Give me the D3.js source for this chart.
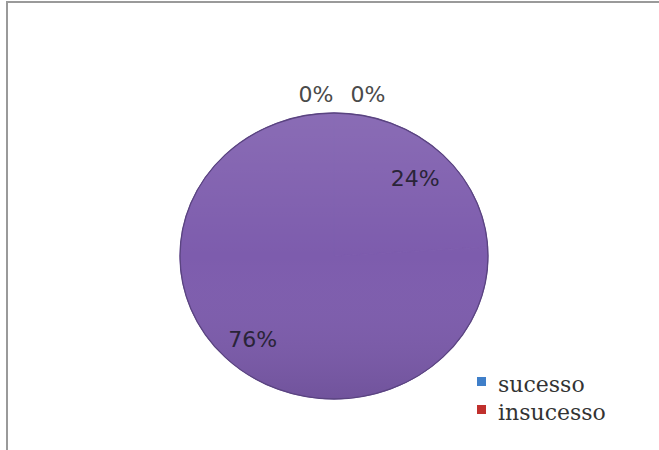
<!DOCTYPE html>
<html>
<head>
<meta charset="utf-8">
<script src="https://cdn.jsdelivr.net/npm/d3@7"></script>
<style>
  body { margin: 0; background: #fff; }
</style>
</head>
<body>
<div id="chart"></div>
<script>
// slices in drawing order, clockwise from 12 o'clock
const values = [0, 0, 24, 76];
const sliceLabels = ["0%", "0%", "24%", "76%"];
const sliceColors = ["#4f81bd", "#c0504d", "#7d5cad", "#7d5cad"];
const legendLabels = ["sucesso", "insucesso"];
const legendColors = ["#3f7fc9", "#c0302d"];

(function pie() {
  let width = 659, height = 450;
  let cx = 334, cy = 256, rx = 154, ry = 143;

  const svg = d3.select("#chart")
    .append("svg")
    .attr("width", width)
    .attr("height", height);

  // frame (only left and top edges are visible in the picture)
  svg.append("line").attr("x1", 7).attr("x2", 7).attr("y1", 1).attr("y2", height)
    .attr("stroke", "#9a9a9a").attr("stroke-width", 2);
  svg.append("line").attr("x1", 6).attr("x2", width).attr("y1", 2).attr("y2", 2)
    .attr("stroke", "#9a9a9a").attr("stroke-width", 2);

  const defs = svg.append("defs");
  const grad = defs.append("linearGradient").attr("id", "shade")
    .attr("x1", 0).attr("y1", 0).attr("x2", 0).attr("y2", 1);
  grad.append("stop").attr("offset", "0%").attr("stop-color", "#ffffff").attr("stop-opacity", 0.1);
  grad.append("stop").attr("offset", "50%").attr("stop-color", "#ffffff").attr("stop-opacity", 0);
  grad.append("stop").attr("offset", "100%").attr("stop-color", "#000000").attr("stop-opacity", 0.1);

  const pieGen = d3.pie().sort(null).value(d => d);
  const arcs = pieGen(values);
  const arc = d3.arc().innerRadius(0).outerRadius(1);

  const g = svg.append("g")
    .attr("transform", `translate(${cx},${cy}) scale(${rx},${ry})`);

  g.selectAll("path.slice")
    .data(arcs)
    .join("path")
    .attr("class", "slice")
    .attr("d", arc)
    .attr("fill", (d, i) => sliceColors[i])
    .attr("stroke", (d, i) => sliceColors[i])
    .attr("stroke-width", 1)
    .attr("vector-effect", "non-scaling-stroke");

  g.append("ellipse").attr("rx", 1).attr("ry", 1)
    .attr("fill", "url(#shade)")
    .attr("stroke", "#5a4480")
    .attr("stroke-width", 1.3)
    .attr("vector-effect", "non-scaling-stroke");

  // labels
  const inner = d3.arc().innerRadius(0.77).outerRadius(0.77);
  const lab = svg.append("g").attr("font-family", "DejaVu Sans, Verdana, sans-serif")
    .attr("font-size", 22).attr("text-anchor", "middle");

  let zeroIdx = 0;
  arcs.forEach((d, i) => {
    let x, y, color;
    if (d.value === 0) {
      const a = d.startAngle;
      x = cx + Math.sin(a) * rx + (zeroIdx === 0 ? -18 : 34);
      y = cy - Math.cos(a) * ry * 1.13;
      color = "#4a4a4a";
      zeroIdx++;
    } else {
      const c = inner.centroid(d);
      x = cx + c[0] * rx;
      y = cy + c[1] * ry + 3;
      color = "#2a2438";
    }
    lab.append("text")
      .attr("x", x).attr("y", y)
      .attr("dy", "0.35em")
      .attr("fill", color)
      .text(sliceLabels[i]);
  });

  // legend
  const leg = svg.append("g").attr("transform", "translate(477,377)");
  legendLabels.forEach((name, i) => {
    leg.append("rect").attr("x", 0).attr("y", i * 28)
      .attr("width", 9).attr("height", 9)
      .attr("fill", legendColors[i]);
    leg.append("text").attr("x", 21).attr("y", i * 28 + 15)
      .attr("font-family", "DejaVu Serif, Liberation Serif, serif")
      .attr("font-size", 22).attr("fill", "#333")
      .text(name);
  });
})();
</script>
</body>
</html>
